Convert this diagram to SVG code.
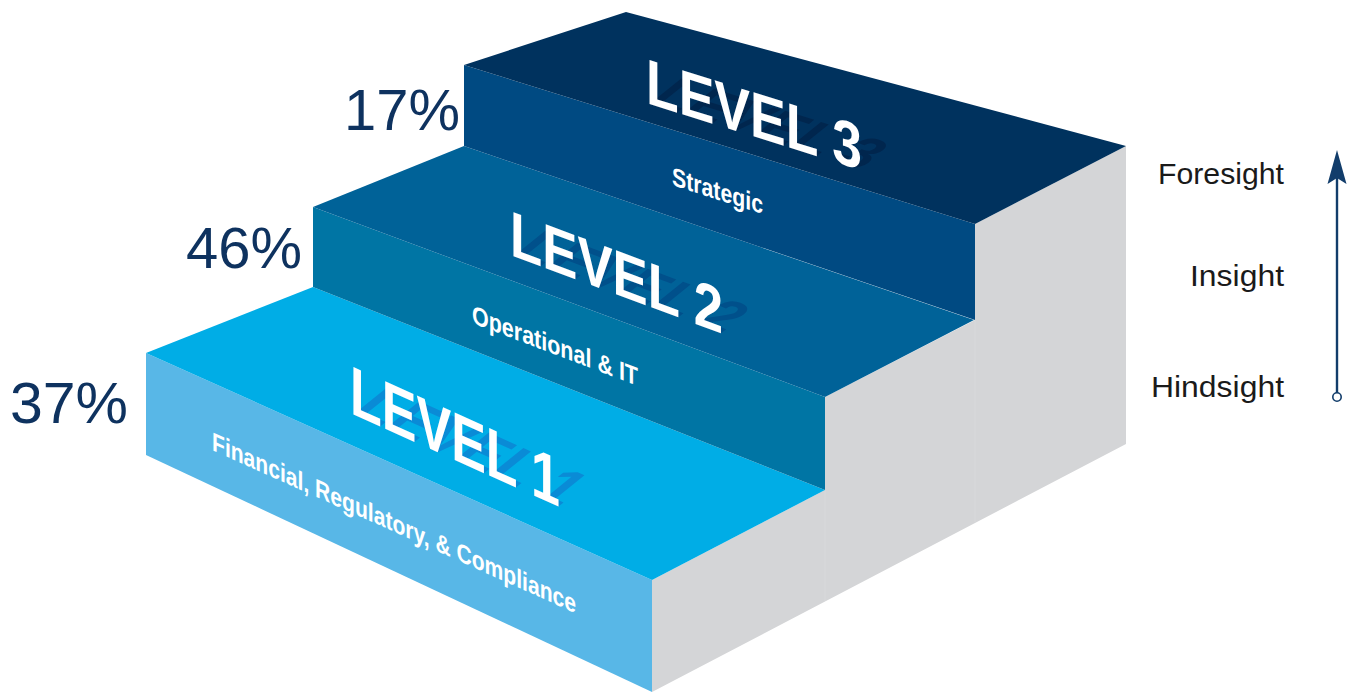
<svg xmlns="http://www.w3.org/2000/svg" width="1354" height="692" viewBox="0 0 1354 692">
  <defs>
    <style>
      .lvl { font-family: "Liberation Sans Narrow", "Liberation Sans", "DejaVu Sans Condensed", sans-serif; font-weight: 700; }
      .sub { font-family: "Liberation Sans Narrow", "Liberation Sans", "DejaVu Sans Condensed", sans-serif; font-weight: 700; fill: #ffffff; font-size: 26px; }
      .white { fill: #ffffff; }
      .pct { font-family: "Liberation Sans", Arial, sans-serif; font-size: 57px; fill: #0e325f; }
      .axis { font-family: "Liberation Sans", Arial, sans-serif; font-size: 30px; fill: #1a1a1a; text-anchor: end; }
      .seam { stroke: #d9dadc; stroke-width: 0.8; fill: none; }
    </style>
  </defs>

  <rect width="1354" height="692" fill="#ffffff"/>

  <!-- grey side wall of the staircase -->
  <g id="side">
    <polygon points="652,580 825,490 825,397 975,320 975,224 1126,146 1126,444 652,692" fill="#d4d5d7"/>
    <line class="seam" x1="825" y1="490" x2="825" y2="601"/>
    <line class="seam" x1="975" y1="320" x2="975" y2="522"/>
  </g>

  <!-- step 1 -->
  <g id="step-1">
    <polygon points="146,353 652,580 652,692 146,455" fill="#58b7e7"/>
    <polygon points="146,353 313,287 825,490 652,580" fill="#00ade6"/>
    <text class="lvl" font-size="69" fill="#0a8bd6" transform="matrix(1,0.449,-0.72,0.58,350,413)" textLength="210" lengthAdjust="spacingAndGlyphs">LEVEL 1</text>
    <text class="lvl white" font-size="69" transform="matrix(1,0.449,0,1,350,413)" textLength="210" lengthAdjust="spacingAndGlyphs">LEVEL 1</text>
    <text class="sub" transform="matrix(1,0.449,0,1,212,450)" textLength="364" lengthAdjust="spacingAndGlyphs">Financial, Regulatory, &amp; Compliance</text>
  </g>

  <!-- step 2 -->
  <g id="step-2">
    <polygon points="313,207 825,397 825,490 313,287" fill="#0075a4"/>
    <polygon points="313,207 464,146 974,320 825,397" fill="#006298"/>
    <text class="lvl" font-size="64" fill="#00508b" transform="matrix(1,0.371,-0.72,0.58,510,255)" textLength="213" lengthAdjust="spacingAndGlyphs">LEVEL 2</text>
    <text class="lvl white" font-size="64" transform="matrix(1,0.371,0,1,510,255)" textLength="213" lengthAdjust="spacingAndGlyphs">LEVEL 2</text>
    <text class="sub" transform="matrix(1,0.38,0,1,472,323)" textLength="166" lengthAdjust="spacingAndGlyphs">Operational &amp; IT</text>
  </g>

  <!-- step 3 -->
  <g id="step-3">
    <polygon points="464,65 975,224 975,320 464,146" fill="#004a82"/>
    <polygon points="464,65 626,12 1126,146 975,224" fill="#00325e"/>
    <text class="lvl" font-size="64" fill="#00264e" transform="matrix(1,0.311,-0.72,0.58,646,103)" textLength="216" lengthAdjust="spacingAndGlyphs">LEVEL 3</text>
    <text class="lvl white" font-size="64" transform="matrix(1,0.311,0,1,646,103)" textLength="216" lengthAdjust="spacingAndGlyphs">LEVEL 3</text>
    <text class="sub" transform="matrix(1,0.32,0,1,672,185)" textLength="91" lengthAdjust="spacingAndGlyphs">Strategic</text>
  </g>

  <!-- share of each level -->
  <g id="percentages">
    <text class="pct" x="344" y="130" textLength="116" lengthAdjust="spacingAndGlyphs">17%</text>
    <text class="pct" x="186" y="268" textLength="116" lengthAdjust="spacingAndGlyphs">46%</text>
    <text class="pct" x="10" y="423" textLength="118" lengthAdjust="spacingAndGlyphs">37%</text>
  </g>

  <!-- sight scale -->
  <g id="axis-labels">
    <text class="axis" x="1284" y="184" textLength="126" lengthAdjust="spacingAndGlyphs">Foresight</text>
    <text class="axis" x="1284" y="286" textLength="94" lengthAdjust="spacingAndGlyphs">Insight</text>
    <text class="axis" x="1284" y="397" textLength="133" lengthAdjust="spacingAndGlyphs">Hindsight</text>
  </g>

  <g id="connectors">
    <line x1="1337" y1="393" x2="1337" y2="176" stroke="#123d6b" stroke-width="2.4"/>
    <path d="M1337,150 L1346.5,184 L1337,178 L1327.5,184 Z" fill="#123d6b"/>
    <circle cx="1337" cy="397" r="4.2" fill="#ffffff" stroke="#123d6b" stroke-width="1.6"/>
  </g>
</svg>
